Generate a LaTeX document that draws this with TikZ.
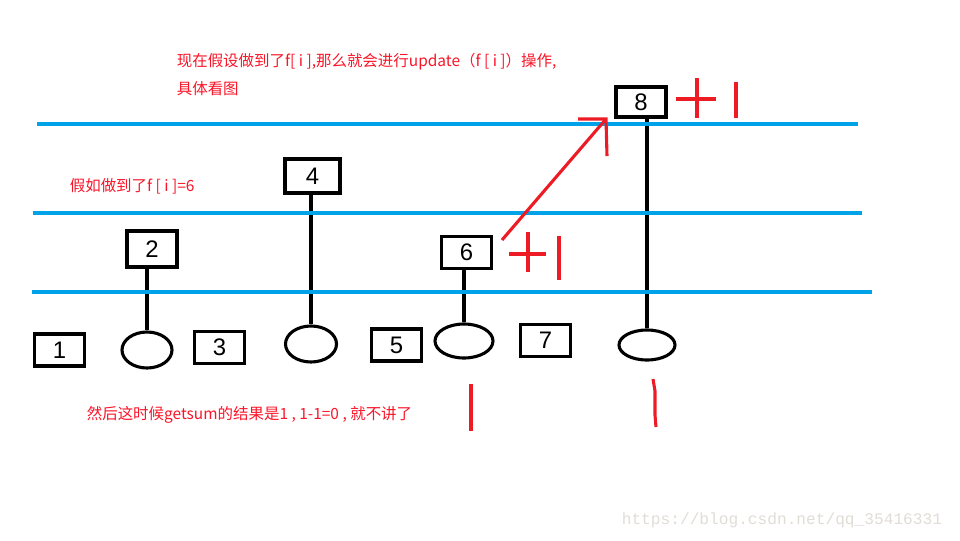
\documentclass[tikz,border=0pt]{standalone}
\usepackage{fontspec}
\setmainfont{Liberation Sans}
\newfontfamily\cjk{Noto Sans CJK SC}
\newfontfamily\wmfont{Liberation Mono}
\usetikzlibrary{shapes.geometric}
\definecolor{paintblue}{RGB}{0,162,232}
\definecolor{paintred}{RGB}{237,28,36}
\definecolor{notered}{RGB}{250,20,40}
\definecolor{markgray}{RGB}{224,220,214}

\begin{document}
\begin{tikzpicture}[x=.025cm,y=-.025cm,line width=2.6pt,
  cell/.style={draw,inner sep=0,minimum width=1.25cm,minimum height=.8cm,font=\fontsize{17}{17}\selectfont},
  leaf/.style={draw,ellipse,inner sep=0,line width=2.2pt},
  level/.style={paintblue,line width=2.2pt},
  pen/.style={paintred,line width=2.2pt},
  note/.style={anchor=west,inner sep=0,text=notered,font=\cjk\fontsize{11}{13}\selectfont}]
  \useasboundingbox (0,0) rectangle (960,540);
  % boxes of the tree
  \node[cell] (b1) at (59.5,350) {1};
  \node[cell,minimum height=.9cm] (b2) at (152,249) {2};
  \node[cell] (b3) at (219.5,347.5) {3};
  \node[cell,minimum width=1.375cm,minimum height=.85cm] (b4) at (312.5,176) {4};
  \node[cell] (b5) at (396.5,345) {5};
  \node[cell] (b6) at (466.5,252.5) {6};
  \node[cell] (b7) at (545.5,340.5) {7};
  \node[cell,minimum height=.75cm] (b8) at (641,102) {8};
  % leaves
  \node[leaf,minimum width=1.25cm,minimum height=.9cm] (e2) at (147,350) {};
  \node[leaf,minimum width=1.275cm,minimum height=.9cm] (e4) at (311,344) {};
  \node[leaf,minimum width=1.45cm,minimum height=.85cm] (e6) at (464,341) {};
  \node[leaf,minimum width=1.4cm,minimum height=.75cm] (e8) at (647,345) {};
  \draw (e2.north)--(e2.north |- b2.south);
  \draw (e4.north)--(e4.north |- b4.south);
  \draw (e6.north)--(e6.north |- b6.south);
  \draw (e8.north)--(e8.north |- b8.south);
  % levels
  \draw[level] (37,124)--(858,124);
  \draw[level] (33,213)--(862,213);
  \draw[level] (32,292)--(872,292);
  % red pen
  \draw[pen] (509,254)--(546,254) (528,232)--(528,272) (559,236)--(559,280);
  \draw[pen] (676,99)--(716,99) (697,78)--(697,118) (736,82)--(736,118);
  \coordinate (from) at (502,240);
  \coordinate (tip) at (606,119);
  \draw[pen] (from)--(tip);
  \draw[pen] (578,119)--(tip)--(607,156);
  \draw[pen] (471,384)--(471,431);
  \draw[pen] (653,379)--(655,391)--(655,415)--(656,427);
  % notes
  \node[note] (upd) at (175,62) {现在假设做到了f[ i ],那么就会进行update（f [ i ]）操作,};
  \node[note] (see) at (175,89) {具体看图};
  \node[note] (cur) at (68,186) {假如做到了f [ i ]=6};
  \node[note] (res) at (85,415) {然后这时候getsum的结果是1 , 1-1=0 , 就不讲了};
  \node[anchor=west,inner sep=0,text=markgray,font=\wmfont\fontsize{11.5}{12}\selectfont] (mark) at (620,520) {https://blog.csdn.net/qq\_35416331};
\end{tikzpicture}
\end{document}
